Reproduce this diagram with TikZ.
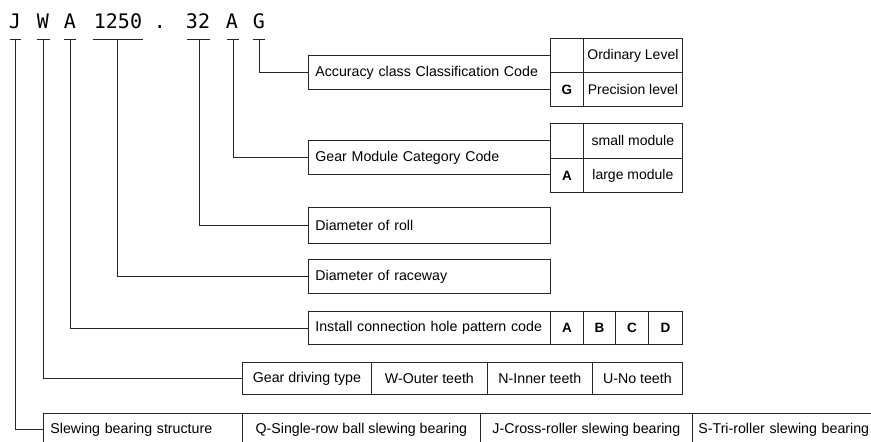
\documentclass[tikz,border=0pt]{standalone}
\usepackage{fontspec}
\setmainfont{Liberation Sans}
\newfontfamily\titlefont{DejaVu Sans Mono}
\begin{document}
\begin{tikzpicture}[x=1pt,y=-1pt,
  ln/.style={draw=black!85, line width=0.8pt},
  tit/.style={font=\titlefont\fontsize{20}{20}\selectfont, anchor=base, inner sep=0pt},
  cellbox/.style={draw=black!85, line width=0.8pt, inner sep=0pt, anchor=north west, font=\fontsize{14.2}{16}\selectfont},
  tabcell/.style={cellbox, font=\fontsize{14}{16}\selectfont},
  letcell/.style={cellbox, font=\fontsize{13.5}{16}\selectfont\bfseries},
  lefttext/.style={inner xsep=7pt, text width=#1, align=left}
]
\clip (0,0) rectangle (871,442);
\fill[white] (0,0) rectangle (871,442);

% title
\node[tit] (tJ) at (15,28) {J};
\node[tit] (tW) at (43,28) {W};
\node[tit] (tA1) at (70,28) {A};
\node[tit] (t1250) at (118,28) {1250};
\node[tit] (tdot) at (160,28) {.};
\node[tit] (t32) at (198,28) {32};
\node[tit] (tA2) at (232,28) {A};
\node[tit] (tG) at (259,28) {G};

\coordinate (cJ) at (15,39);
\coordinate (cW) at (43,39);
\coordinate (cA1) at (70,39);
\coordinate (c1250) at (117,39);
\coordinate (c32) at (199,39);
\coordinate (cA2) at (233,39);
\coordinate (cG) at (259,39);

\draw[ln] (cJ) +(-5.5,0) -- +(5.5,0);
\draw[ln] (cW) +(-6,0) -- +(6.5,0);
\draw[ln] (cA1) +(-6,0) -- +(6,0);
\draw[ln] (c1250) +(-24,0) -- +(26,0);
\draw[ln] (c32) +(-12,0) -- +(11,0);
\draw[ln] (cA2) +(-6,0) -- +(5.5,0);
\draw[ln] (cG) +(-6,0) -- +(6,0);

% accuracy
\node[cellbox, lefttext=228pt, minimum height=34pt] (acc) at (308,55) {\mbox{Accuracy class Classification Code}};
\node[tabcell, minimum width=33pt, minimum height=34pt] (acc1) at (550,38) {};
\node[tabcell, minimum width=99pt, minimum height=34pt] (acc2) at (583,38) {Ordinary Level};
\node[letcell, minimum width=33pt, minimum height=34pt] (acc3) at (550,72) {G};
\node[tabcell, minimum width=99pt, minimum height=34pt] (acc4) at (583,72) {Precision level};

% gear module
\node[cellbox, lefttext=228pt, minimum height=34pt] (gm) at (308,140) {Gear Module Category Code};
\node[tabcell, minimum width=33pt, minimum height=35pt] (gm1) at (550,123) {};
\node[tabcell, minimum width=99pt, minimum height=35pt] (gm2) at (583,123) {small module};
\node[letcell, minimum width=33pt, minimum height=34pt] (gm3) at (550,158) {A};
\node[tabcell, minimum width=99pt, minimum height=34pt] (gm4) at (583,158) {large module};

% roll / raceway
\node[cellbox, lefttext=228pt, minimum height=36pt] (roll) at (308,207) {Diameter of roll};
\node[cellbox, lefttext=228pt, minimum height=34pt] (race) at (308,259) {Diameter of raceway};

% install
\node[cellbox, lefttext=228pt, minimum height=33pt] (inst) at (308,311) {\mbox{Install connection hole pattern code}};
\node[letcell, minimum width=33pt, minimum height=33pt] (instA) at (550,311) {A};
\node[letcell, minimum width=32pt, minimum height=33pt] (instB) at (583,311) {B};
\node[letcell, minimum width=33pt, minimum height=33pt] (instC) at (615,311) {C};
\node[letcell, minimum width=34pt, minimum height=33pt] (instD) at (648,311) {D};

% gear driving type
\node[cellbox, minimum width=129pt, minimum height=32pt] (gdt) at (242,362) {Gear driving type};
\node[cellbox, minimum width=116pt, minimum height=32pt] (gw) at (371,362) {W-Outer teeth};
\node[cellbox, minimum width=105pt, minimum height=32pt] (gn) at (487,362) {N-Inner teeth};
\node[cellbox, minimum width=90pt, minimum height=32pt] (gu) at (592,362) {U-No teeth};

% slewing bearing structure
\node[cellbox, lefttext=185pt, minimum height=32pt] (slew) at (43,413) {Slewing bearing structure};
\node[cellbox, minimum width=238pt, minimum height=32pt] (sq) at (242,413) {Q-Single-row ball slewing bearing};
\node[cellbox, minimum width=212pt, minimum height=32pt] (sj) at (480,413) {J-Cross-roller slewing bearing};
\node[cellbox, inner xsep=6pt, text width=200pt, align=left, minimum height=32pt] (ss) at (692,413) {S-Tri-roller slewing bearing};

% connectors
\draw[ln] (cG) |- (acc.west);
\draw[ln] (cA2) |- (gm.west);
\draw[ln] (c32) |- (roll.west);
\draw[ln] (c1250) |- (race.west);
\draw[ln] (cA1) |- (inst.west);
\draw[ln] (cW) |- (gdt.west);
\draw[ln] (cJ) |- (slew.west);
\end{tikzpicture}
\end{document}
